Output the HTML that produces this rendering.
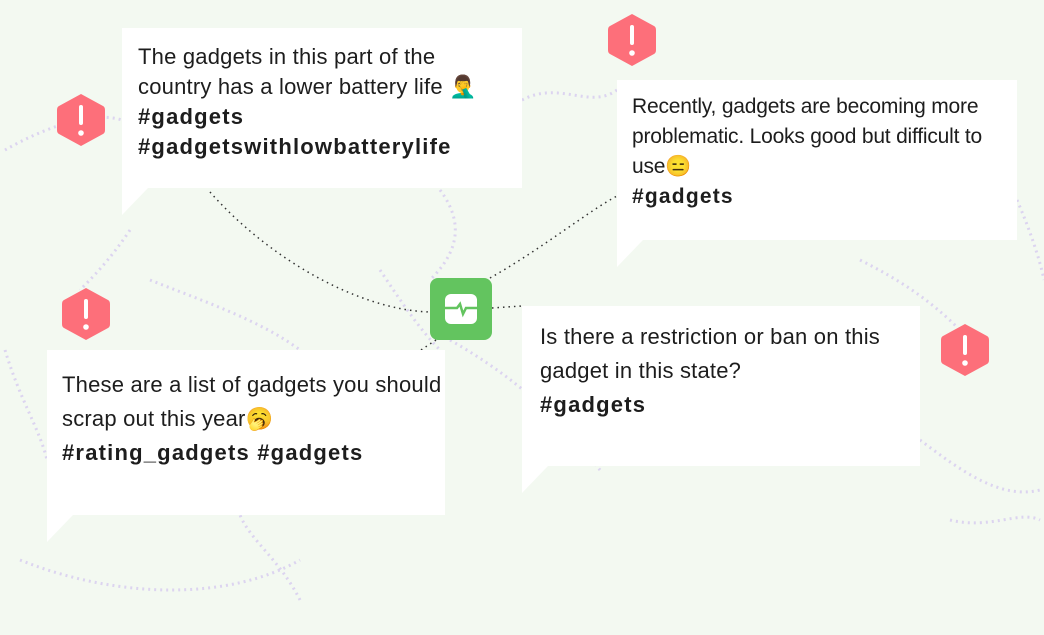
<!DOCTYPE html>
<html><head><meta charset="utf-8"><style>
body{margin:0;width:1044px;height:635px;overflow:hidden;background:#f3f9f1;font-family:"Liberation Sans","Noto Sans CJK SC",sans-serif;position:relative}
.card{position:absolute;background:#fff;color:#1d1d1d;box-sizing:border-box;letter-spacing:0.2px}
.card b{font-weight:bold;letter-spacing:1.2px}
.tail{position:absolute;width:0;height:0;border-right:26px solid transparent;border-top:27px solid #fff}
.hex{position:absolute;width:50px;height:56px}
</style></head><body>
<svg width="1044" height="635" style="position:absolute;left:0;top:0">
<g fill="none" stroke="#dcd4f0" stroke-width="3" stroke-dasharray="2 4">
<path d="M5 150 C40 130 90 110 122 120"/><path d="M20 560 C120 600 230 600 300 560"/>
<path d="M300 600 C280 560 250 540 240 515"/><path d="M450 340 C520 380 560 420 600 470"/>
<path d="M522 100 C560 80 590 110 617 90"/><path d="M440 190 C470 230 450 260 430 280"/>
<path d="M920 440 C960 470 1000 500 1040 490"/><path d="M950 520 C990 530 1020 510 1040 520"/>
<path d="M150 280 C200 300 260 320 300 350"/><path d="M380 270 C400 300 420 330 440 350"/>
<path d="M1017 200 C1030 230 1040 260 1044 280"/><path d="M860 260 C900 280 930 300 960 330"/>
<path d="M5 350 C20 400 40 430 47 460"/><path d="M130 230 C110 260 90 280 80 290"/>
</g>
<g fill="none" stroke="#333" stroke-width="1.5" stroke-dasharray="1.5 4">
<path d="M210 192 C270 260 360 310 430 312"/>
<path d="M490 278 C540 250 590 210 617 196"/>
<path d="M492 308 L522 306"/>
<path d="M436 340 L412 356"/>
</g>
</svg>
<div class="card" style="left:122px;top:28px;width:400px;height:160px;padding:14px 0 0 16px;font-size:22px;line-height:30px">The gadgets in this part of the<br>country has a lower battery life 🤦‍♂️<br><b>#gadgets</b><br><b>#gadgetswithlowbatterylife</b></div>
<div class="tail" style="left:122px;top:188px"></div>
<div class="card" style="left:617px;top:80px;width:400px;height:160px;padding:12px 0 0 15px;font-size:21px;line-height:30px;letter-spacing:-0.2px">Recently, gadgets are becoming more<br>problematic. Looks good but difficult to<br>use😑<br><b>#gadgets</b></div>
<div class="tail" style="left:617px;top:240px"></div>
<div class="card" style="left:47px;top:350px;width:398px;height:165px;padding:18px 0 0 15px;font-size:22px;line-height:34px">These are a list of gadgets you should<br>scrap out this year🥱<br><b>#rating_gadgets #gadgets</b></div>
<div class="tail" style="left:47px;top:515px"></div>
<div class="card" style="left:522px;top:306px;width:398px;height:160px;padding:14px 0 0 18px;font-size:22px;line-height:34px">Is there a restriction or ban on this<br>gadget in this state?<br><b>#gadgets</b></div>
<div class="tail" style="left:522px;top:466px"></div>
<svg width="62" height="62" style="position:absolute;left:430px;top:278px">
<rect width="62" height="62" rx="8" fill="#63c45f"/><rect x="15" y="16" width="32" height="30" rx="6" fill="#fff"/>
<path d="M15 30 H27 L30 26 L33 36 L36 30 H47" stroke="#63c45f" stroke-width="2.5" fill="none"/></svg>
<svg class="hex" style="left:56px;top:92px" viewBox="0 0 50 56"><path d="M25 2 L47 14 Q49 15 49 18 V38 Q49 41 47 42 L25 54 L3 42 Q1 41 1 38 V18 Q1 15 3 14Z" fill="#fd6f7a"/><rect x="23" y="13" width="4" height="20" rx="2" fill="#fff"/><circle cx="25" cy="41" r="2.8" fill="#fff"/></svg>
<svg class="hex" style="left:607px;top:12px" viewBox="0 0 50 56"><path d="M25 2 L47 14 Q49 15 49 18 V38 Q49 41 47 42 L25 54 L3 42 Q1 41 1 38 V18 Q1 15 3 14Z" fill="#fd6f7a"/><rect x="23" y="13" width="4" height="20" rx="2" fill="#fff"/><circle cx="25" cy="41" r="2.8" fill="#fff"/></svg>
<svg class="hex" style="left:61px;top:286px" viewBox="0 0 50 56"><path d="M25 2 L47 14 Q49 15 49 18 V38 Q49 41 47 42 L25 54 L3 42 Q1 41 1 38 V18 Q1 15 3 14Z" fill="#fd6f7a"/><rect x="23" y="13" width="4" height="20" rx="2" fill="#fff"/><circle cx="25" cy="41" r="2.8" fill="#fff"/></svg>
<svg class="hex" style="left:940px;top:322px" viewBox="0 0 50 56"><path d="M25 2 L47 14 Q49 15 49 18 V38 Q49 41 47 42 L25 54 L3 42 Q1 41 1 38 V18 Q1 15 3 14Z" fill="#fd6f7a"/><rect x="23" y="13" width="4" height="20" rx="2" fill="#fff"/><circle cx="25" cy="41" r="2.8" fill="#fff"/></svg>
</body></html>
